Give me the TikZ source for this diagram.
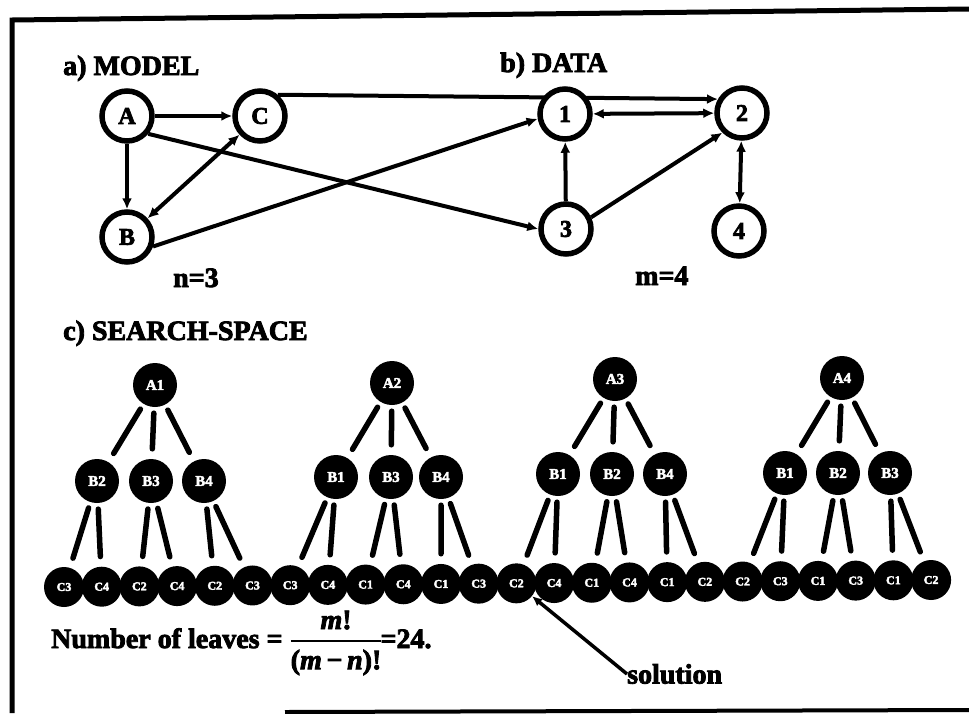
\RequirePackage{fix-cm}
\documentclass[tikz,border=0pt]{standalone}
\usepackage{amsmath}
\usepackage{fontspec}
\setmainfont{Liberation Serif}[BoldFeatures={FakeBold=3}, BoldItalicFeatures={FakeBold=3}]
\usetikzlibrary{arrows.meta,backgrounds}

\tikzset{
  heading/.style={font=\fontsize{28}{32}\selectfont\bfseries, inner sep=0pt, anchor=base west},
  gnode/.style={circle, draw, line width=5.5pt, fill=white, minimum size=50pt, inner sep=0pt,
                font=\fontsize{24}{28}\selectfont\bfseries},
  tip/.tip={Latex[length=11pt,width=10pt]},
  garc/.style={line width=4pt, -tip},
  garcboth/.style={line width=4pt, tip-tip},
  snode/.style={circle, fill=black, minimum size=44pt, inner sep=0pt, text=white,
                font=\fontsize{15}{16}\selectfont\bfseries},
  leaf/.style={snode, minimum size=40pt, font=\fontsize{12}{13}\selectfont\bfseries},
  tedge/.style={line width=5.5pt, line cap=round, shorten <=6pt, shorten >=10pt},
  frame/.style={line width=5pt},
}
% italic variable inside the bold formula
\newcommand\varit[1]{\textit{#1}}

\begin{document}
\begin{tikzpicture}[x=1pt, y=-1pt]
\useasboundingbox (0,0) rectangle (969,713);

% outer frame
\draw[frame] (12,713) -- (12,20) -- (969,9);
\draw[line width=4pt] (285,712) -- (969,710);

% section headings
\node[heading] (ha) at (63,75) {a) MODEL};
\node[heading] (hb) at (500,72) {b) DATA};
\node[heading] (hc) at (63,340) {c) SEARCH-SPACE};
\node[heading] (nn) at (173,287) {n=3};
\node[heading] (mm) at (635,285) {m=4};

% model graph
\node[gnode] (A) at (127,116) {A};
\node[gnode] (C) at (260,116) {C};
\node[gnode] (B) at (127,237) {B};
% data graph
\node[gnode] (d1) at (565,114) {1};
\node[gnode] (d2) at (742,113) {2};
\node[gnode] (d3) at (566,229) {3};
\node[gnode] (d4) at (739,231) {4};

\begin{scope}[on background layer]
  \draw[garc] (A) -- (C);
  \draw[garc] (A) -- (B);
  \draw[garcboth] (C) -- (B);
  \draw[garc] (C.50) -- (d2.150);
  \draw[garc] (A.-40) -- (d3.west);
  \draw[garc] (B.-20) -- (d1.190);
  \draw[garcboth] (d1) -- (d2);
  \draw[garc] (d3) -- (d1);
  \draw[garc] (d3.25) -- (d2.225);
  \draw[garcboth] (d2) -- (d4);
\end{scope}

% search space: roots
\foreach \nm/\px/\py/\lab in {r0/155/385/A1, r1/392/383/A2, r2/615/379/A3, r3/842/378/A4}
  \node[snode] (\nm) at (\px,\py) {\lab};

% search space: second level
\foreach \nm/\px/\py/\lab in {
    b0/97/481/B2, b1/151/481/B3, b2/204/481/B4,
    b3/336/477/B1, b4/391/477/B3, b5/441/477/B4,
    b6/558/474/B1, b7/612/474/B2, b8/665/474/B4,
    b9/785/473/B1, b10/838/473/B2, b11/890/473/B3}
  \node[snode] (\nm) at (\px,\py) {\lab};

% search space: leaves
\foreach \lab [count=\i from 0] in {C3,C4,C2,C4,C2,C3, C3,C4,C1,C4,C1,C3,
                                   C2,C4,C1,C4,C1,C2, C2,C3,C1,C3,C1,C2} {
  \pgfmathsetmacro\lx{64+37.7*\i}
  \pgfmathsetmacro\ly{587-7*\i/23}
  \node[leaf] (l\i) at (\lx,\ly) {\lab};
}

% tree edges
\foreach \k in {0,...,3}
  \foreach \j in {0,1,2} {
    \pgfmathtruncatemacro\m{3*\k+\j}
    \draw[tedge] (r\k) -- (b\m);
  }
\foreach \m in {0,...,11} {
  \pgfmathtruncatemacro\la{2*\m}
  \pgfmathtruncatemacro\lb{2*\m+1}
  \draw[tedge] (b\m) -- (l\la);
  \draw[tedge] (b\m) -- (l\lb);
}

% formula and solution pointer
\node[heading] (f) at (51,648) {Number of leaves =
  $\genfrac{}{}{2.5pt}{0}{\hbox{\varit{m}!}}{\hbox{(\varit{m}\,−\,\varit{n})!}}$\kern-2pt=24.};
\node[heading, anchor=west] (sol) at (627,674) {solution};
\draw[line width=3.5pt, -{Latex[length=10pt,width=9pt]}] (sol.west) -- (l12);

\end{tikzpicture}
\end{document}
